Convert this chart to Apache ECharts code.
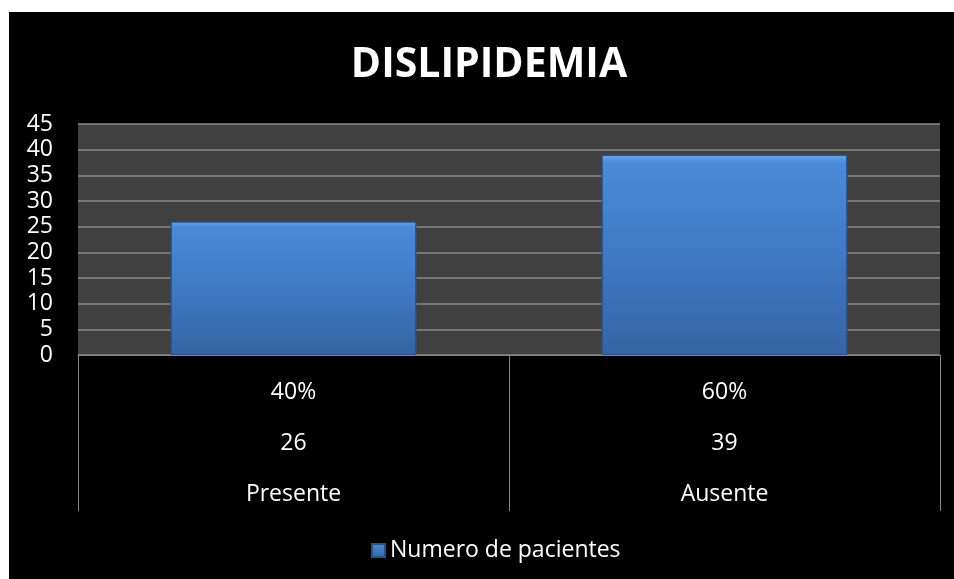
<!DOCTYPE html>
<html>
  <head>
    <meta charset="utf-8" />
    <title>DISLIPIDEMIA</title>
    <script src="https://cdn.jsdelivr.net/npm/echarts@6/dist/echarts.min.js"></script>
    <style>
      body { margin: 0; background: #ffffff; }
      #chart { position: absolute; left: 9px; top: 12px; width: 945px; height: 567px; background: #000000; }
    </style>
  </head>
  <body>
    <div id="chart"></div>
    <script type="text/javascript">
      // datos del grafico
      var categorias = ["Presente", "Ausente"];
      var pacientes = [26, 39];
      var porcentajes = ["40%", "60%"];
      var yTicks = [0, 5, 10, 15, 20, 25, 30, 35, 40, 45];

      var fuente = "Open Sans";
      var chart = echarts.init(document.getElementById("chart"));
      var option = {
        backgroundColor: "#000000",
        title: {
          text: "DISLIPIDEMIA",
          left: 475,
          textAlign: "center",
          top: 28,
          textStyle: { color: "#ffffff", fontSize: 41, fontWeight: "bold", fontFamily: fuente }
        },
        legend: {
          data: ["Numero de pacientes"],
          left: 357,
          top: 522,
          icon: "rect",
          itemWidth: 13,
          itemHeight: 13,
          itemGap: 4,
          textStyle: { color: "#ffffff", fontSize: 23, fontFamily: fuente }
        },
        grid: {
          left: 69,
          right: 14,
          top: 112,
          bottom: 224,
          show: true,
          backgroundColor: "#404040",
          borderWidth: 0
        },
        xAxis: {
          type: "category",
          data: categorias,
          axisLine: { lineStyle: { color: "#858585", width: 1 } },
          axisTick: { show: true, length: 156, lineStyle: { color: "#858585" } },
          axisLabel: {
            margin: 12,
            formatter: function (value, i) {
              return "{a|" + porcentajes[i] + "}\n{a|" + pacientes[i] + "}\n{a|" + value + "}";
            },
            rich: {
              a: { color: "#ffffff", fontSize: 23, fontFamily: fuente, lineHeight: 51 }
            }
          }
        },
        yAxis: {
          type: "value",
          min: yTicks[0],
          max: yTicks[yTicks.length - 1],
          interval: 5,
          axisLine: { show: false },
          axisTick: { show: false },
          splitLine: { lineStyle: { color: "#8a8a8a", width: 1.5 } },
          axisLabel: { color: "#ffffff", fontSize: 23, fontFamily: fuente, margin: 25 }
        },
        series: [
          {
            name: "Numero de pacientes",
            type: "bar",
            data: pacientes,
            barWidth: "57%",
            itemStyle: {
              color: new echarts.graphic.LinearGradient(0, 0, 0, 1, [
                { offset: 0, color: "#6ba6ec" },
                { offset: 0.04, color: "#4a8ad8" },
                { offset: 0.5, color: "#4079c5" },
                { offset: 1, color: "#3564a3" }
              ]),
              borderColor: "#28528c",
              borderWidth: 1
            }
          }
        ]
      };
      chart.setOption(option);
    </script>
  </body>
</html>
